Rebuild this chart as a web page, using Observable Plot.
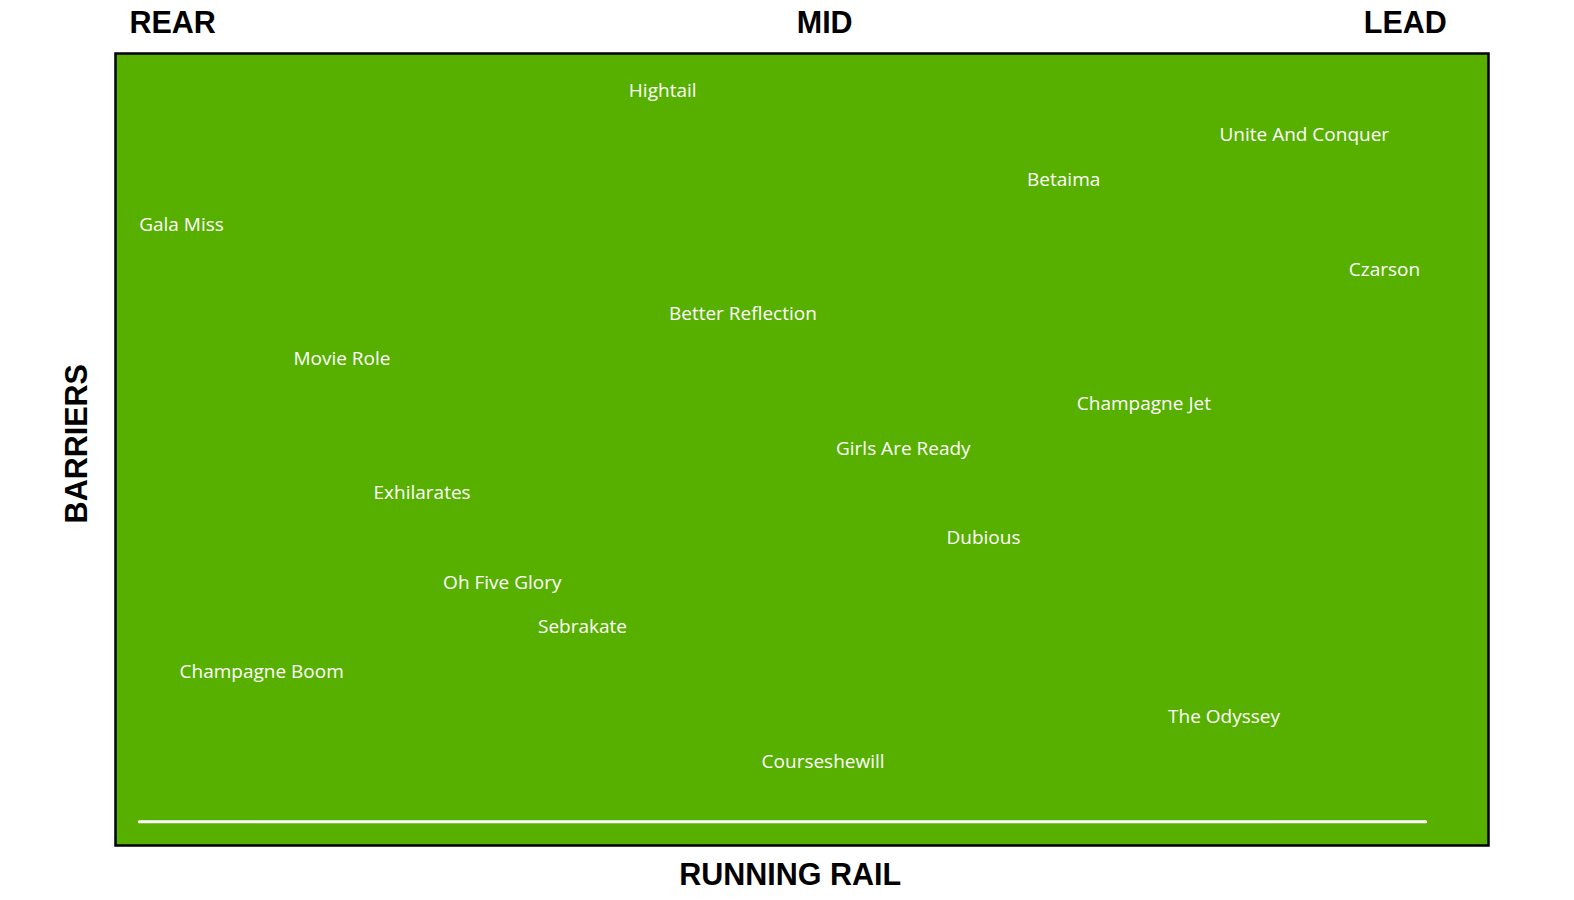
<!DOCTYPE html>
<html>
<head>
<meta charset="utf-8">
<script src="https://cdn.jsdelivr.net/npm/d3@7"></script>
<script src="https://cdn.jsdelivr.net/npm/@observablehq/plot@0.6"></script>
<style>
  html, body { margin: 0; padding: 0; background: #fff; }
</style>
</head>
<body>
<div id="chart"></div>
<script>
// Horses: name, running position (1 = rear ... 16 = lead), barrier row (1 = top)
const horses = ["Hightail","Unite And Conquer","Betaima","Gala Miss","Czarson","Better Reflection","Movie Role","Champagne Jet","Girls Are Ready","Exhilarates","Dubious","Oh Five Glory","Sebrakate","Champagne Boom","The Odyssey","Courseshewill"];
const position = [7, 15, 12, 1, 16, 8, 3, 13, 10, 4, 11, 5, 6, 2, 14, 9];
const barrier  = [1, 2, 3, 4, 5, 6, 7, 8, 9, 10, 11, 12, 13, 14, 15, 16];

const headerLabels = ["REAR", "MID", "LEAD"];
const headerPos = [0.89, 9.02, 16.26];
const xTitle = "RUNNING RAIL";
const xTitlePos = 8.59;
const yTitle = "BARRIERS";
const yTitlePos = 8.94;
const railRow = 17.39;
const railFrom = 0.48;
const railTo = 16.52;

const data = horses.map((h, i) => ({name: h, pos: position[i], bar: barrier[i]}));

const titleStyle = {fill: "#000", fontSize: 30.5, fontWeight: "bold", fontFamily: "Liberation Sans", lineAnchor: "middle", textAnchor: "middle"};

const chart = Plot.plot({
  width: 1574,
  height: 900,
  marginLeft: 115,
  marginRight: 86,
  marginTop: 53,
  marginBottom: 55,
  style: {background: "#fff", overflow: "visible"},
  x: {domain: [0.177, 17.297], axis: null},
  y: {domain: [17.92, 0.2175], axis: null},
  marks: [
    Plot.frame({fill: "#57b000", stroke: "#000", strokeWidth: 2.5}),
    Plot.ruleY([railRow], {x1: railFrom, x2: railTo, stroke: "#fff", strokeWidth: 3, strokeLinecap: "round"}),
    Plot.text(data, {x: "pos", y: "bar", text: "name", fill: "#fff", fontSize: 19, fontFamily: "Open Sans", textAnchor: "middle", dy: 2}),
    Plot.text(headerLabels, {x: (d, i) => headerPos[i], frameAnchor: "top", dy: -30, text: d => d, ...titleStyle}),
    Plot.text([xTitle], {x: xTitlePos, frameAnchor: "bottom", dy: 30, text: d => d, ...titleStyle}),
    Plot.text([yTitle], {y: yTitlePos, frameAnchor: "left", dx: -38, rotate: -90, text: d => d, ...titleStyle})
  ]
});
document.getElementById("chart").appendChild(chart);
</script>
</body>
</html>
